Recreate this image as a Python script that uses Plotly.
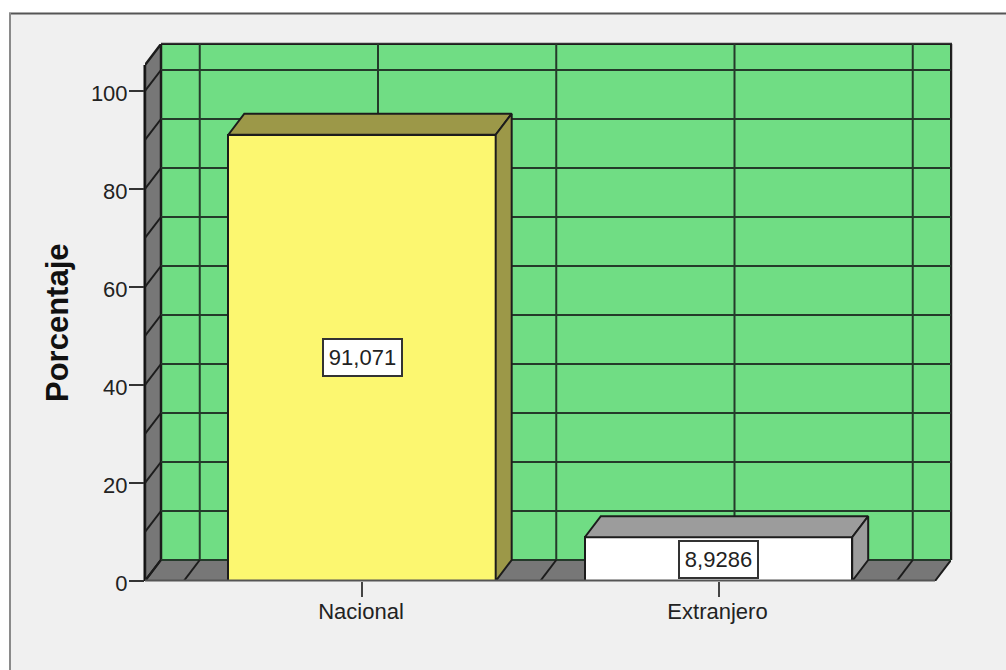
import plotly.graph_objects as go

# ---- data ----
categories = ["Nacional", "Extranjero"]
values = [91.071, 8.9286]
value_labels = ["91,071", "8,9286"]
y_ticks = [0, 20, 40, 60, 80, 100]
y_grid = [0, 10, 20, 30, 40, 50, 60, 70, 80, 90, 100]
x_grid = [-0.5, 0, 0.5, 1, 1.5]
bar_colors = ["#FCF770", "#FFFFFF"]
top_colors = ["#9C9848", "#9C9C9C"]

# ---- canvas ----
W, H = 1006, 670
L, R, T, B = 145, 951, 44, 581
PX_X = 356.5
PX_Y = 4.9
x_min = (L - 362) / PX_X
x_max = (R - 362) / PX_X
y_max = (B - T) / PX_Y
dx = 16 / PX_X
dy = 21 / PX_Y
bar_w = 0.75
x_front_r = x_max - dx
wall_top = y_max - dy
EDGE = "#1c1c1c"

def px(v):
    return (v - L) / (R - L)
def py(v):
    return (B - v) / (B - T)

shapes = []
def poly(xs, ys, fill, w=2, color=EDGE):
    path = "M " + " L ".join(f"{a},{b}" for a, b in zip(xs, ys)) + " Z"
    shapes.append(dict(type="path", path=path, xref="x", yref="y", layer="below",
                       fillcolor=fill, line=dict(color=color, width=w)))
def seg(x0, y0, x1, y1, w=2, color="#243a2a"):
    shapes.append(dict(type="line", x0=x0, y0=y0, x1=x1, y1=y1, xref="x", yref="y",
                       layer="below", line=dict(color=color, width=w)))
def frame(x0, y0, x1, y1, color, w=2, layer="below"):
    shapes.append(dict(type="line", xref="paper", yref="paper", layer=layer,
                       x0=px(x0), x1=px(x1), y0=py(y0), y1=py(y1),
                       line=dict(color=color, width=w)))

# outer frame
shapes.append(dict(type="rect", xref="paper", yref="paper", layer="below",
                   x0=px(10), x1=px(W + 5), y0=py(13), y1=py(H + 5),
                   fillcolor="#F0F0F0", line=dict(width=0)))
frame(9, 13.5, W, 13.5, "#555555")
frame(10, 13, 10, H, "#8a8a8a")

# back wall, side wall, floor
poly([x_min + dx, x_max, x_max, x_min + dx], [dy, dy, y_max, y_max], "#70DD84")
poly([x_min, x_min + dx, x_min + dx, x_min], [0, dy, y_max, wall_top], "#777777", w=2.5)
poly([x_min, x_front_r, x_max, x_min + dx], [0, 0, dy, dy], "#777777")

for v in y_grid:
    seg(x_min + dx, v + dy, x_max, v + dy)
    seg(x_min, v, x_min + dx, v + dy, color=EDGE)
for c in x_grid:
    seg(c + dx, dy, c + dx, y_max)
    seg(c, 0, c + dx, dy, color=EDGE)

# edges that the plot area would otherwise clip
frame(L + 16, T, R + 1, T, "#333333", w=2.5)
frame(R, T, R, B - 21, "#222222", w=2.5)
frame(L, B - (y_max - dy) * PX_Y, L, B, "#111111", w=3)

fig = go.Figure()

# front faces
fig.add_trace(go.Bar(x=list(range(len(values))), y=values, width=bar_w,
                     marker=dict(color=bar_colors, line=dict(color=EDGE, width=2)),
                     showlegend=False, hoverinfo="skip"))

# top and side faces
for i, v in enumerate(values):
    a, b = i - bar_w / 2, i + bar_w / 2
    fig.add_trace(go.Scatter(x=[a, b, b + dx, a + dx, a], y=[v, v, v + dy, v + dy, v],
                             mode="lines", fill="toself", fillcolor=top_colors[i],
                             line=dict(color=EDGE, width=2), showlegend=False, hoverinfo="skip"))
    fig.add_trace(go.Scatter(x=[b, b + dx, b + dx, b, b], y=[0, dy, v + dy, v, 0],
                             mode="lines", fill="toself", fillcolor=top_colors[i],
                             line=dict(color=EDGE, width=2), showlegend=False, hoverinfo="skip"))

# baseline, above the bars
frame(L, B - 0.5, (x_front_r * PX_X + 362), B - 0.5, "#555555", w=2, layer="above")

annotations = [dict(x=i, y=v / 2, xref="x", yref="y", text=value_labels[i], showarrow=False,
                    font=dict(family="Liberation Sans", size=22, color="#222222"),
                    bgcolor="#FFFFFF", bordercolor="#333333", borderwidth=2,
                    width=75, height=33)
               for i, v in enumerate(values)]
annotations.append(dict(x=px(57), y=py(323), xref="paper", yref="paper", text="<b>Porcentaje</b>",
                        textangle=-90, showarrow=False, xanchor="center", yanchor="middle",
                        font=dict(family="Liberation Sans", size=31, color="#111111")))

fig.update_layout(
    width=W, height=H, autosize=False,
    margin=dict(l=L, r=W - R, t=T, b=H - B, pad=0),
    paper_bgcolor="#FFFFFF", plot_bgcolor="rgba(0,0,0,0)",
    shapes=shapes, annotations=annotations, bargap=0,
    font=dict(family="Liberation Sans", size=22, color="#222222"),
    xaxis=dict(range=[x_min, x_max], tickmode="array", tickvals=list(range(len(categories))),
               ticktext=categories, ticks="outside", ticklen=15, tickwidth=2, tickcolor="#444444",
               ticklabelstandoff=-4, ticklabelshift=-1,
               showgrid=False, zeroline=False, showline=False),
    yaxis=dict(range=[0, y_max], tickmode="array", tickvals=y_ticks,
               ticks="outside", ticklen=15, tickwidth=2, tickcolor="#333333",
               ticklabelstandoff=-3, ticklabelshift=2,
               showgrid=False, zeroline=False, showline=False),
)
fig.write_html("out.html", config=dict(displayModeBar=False),
               post_script="document.body.style.margin='0';document.body.style.overflow='hidden';")
